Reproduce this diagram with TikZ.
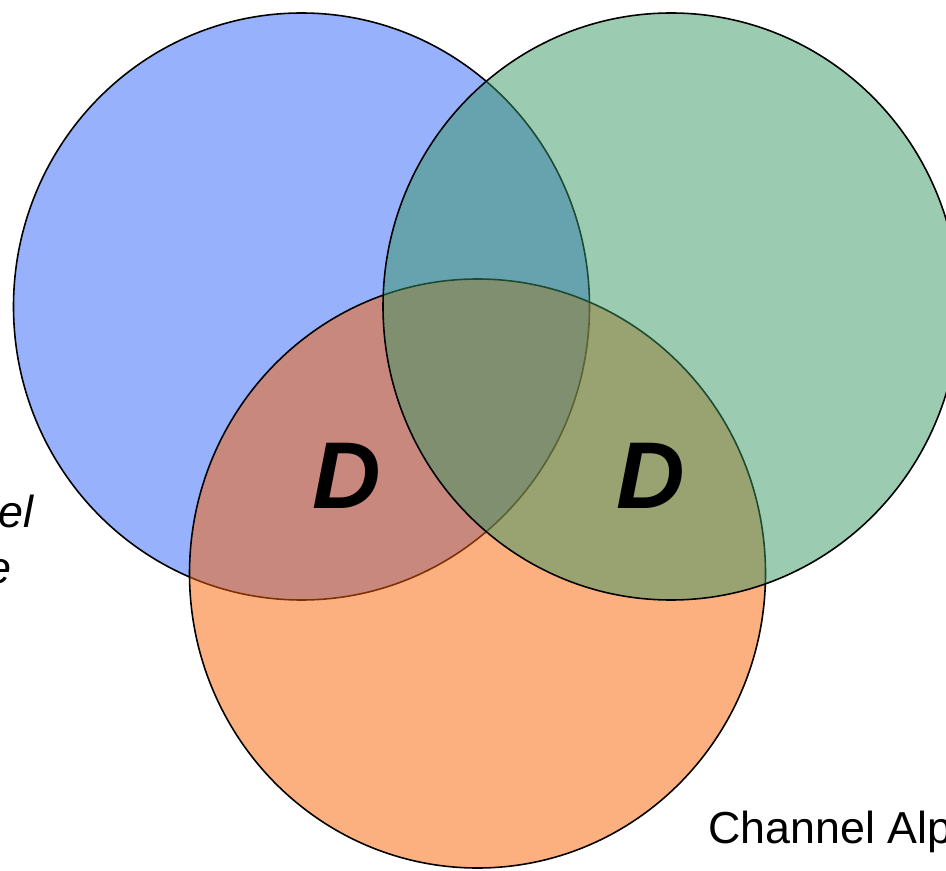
\documentclass[tikz,border=0pt]{standalone}
\usepackage{fontspec}
\setmainfont{Liberation Sans}
\usepackage{tikz}
\usepackage{tkz-euclide}
\usepackage[dvipsnames]{xcolor}

\definecolor{setblue}{RGB}{47,99,251}
\definecolor{setorange}{RGB}{251,97,0}
\definecolor{setgreen}{RGB}{55,151,99}

\tikzset{
  setdisc/.style={draw=black, line width=0.9pt, fill opacity=0.5},
  bigletter/.style={font=\fontsize{54}{54}\selectfont\bfseries\itshape, inner sep=0pt},
  sidelabel/.style={font=\fontsize{25.5}{31}\selectfont, inner sep=0pt}
}

\begin{document}
\begin{tikzpicture}
    \useasboundingbox (0,0) rectangle (18.92,17.4);
    \tkzDefPoint(6.03,11.27){B}
    \tkzDefPoint(13.42,11.27){G}
    \tkzDefPoint(9.55,5.93){O}
    % discs, orange under green
    \draw[setdisc, fill=setblue] (B) ellipse [x radius=5.76, y radius=5.87];
    \draw[setdisc, fill=setorange] (O) ellipse [x radius=5.76, y radius=5.89];
    \draw[setdisc, fill=setgreen] (G) ellipse [x radius=5.76, y radius=5.87];
    \node[bigletter] (dleft) at (6.93,7.88) {D};
    \node[bigletter] (dright) at (13.02,7.88) {D};
    \node[sidelabel, anchor=base west] (channel) at (14.16,0.54) {Channel Alp};
    \node[sidelabel, anchor=base east] (leftone) at (0.68,6.86) {\itshape el};
    \node[sidelabel, anchor=base east] (lefttwo) at (0.24,5.74) {\itshape e};
  \end{tikzpicture}
\end{document}
